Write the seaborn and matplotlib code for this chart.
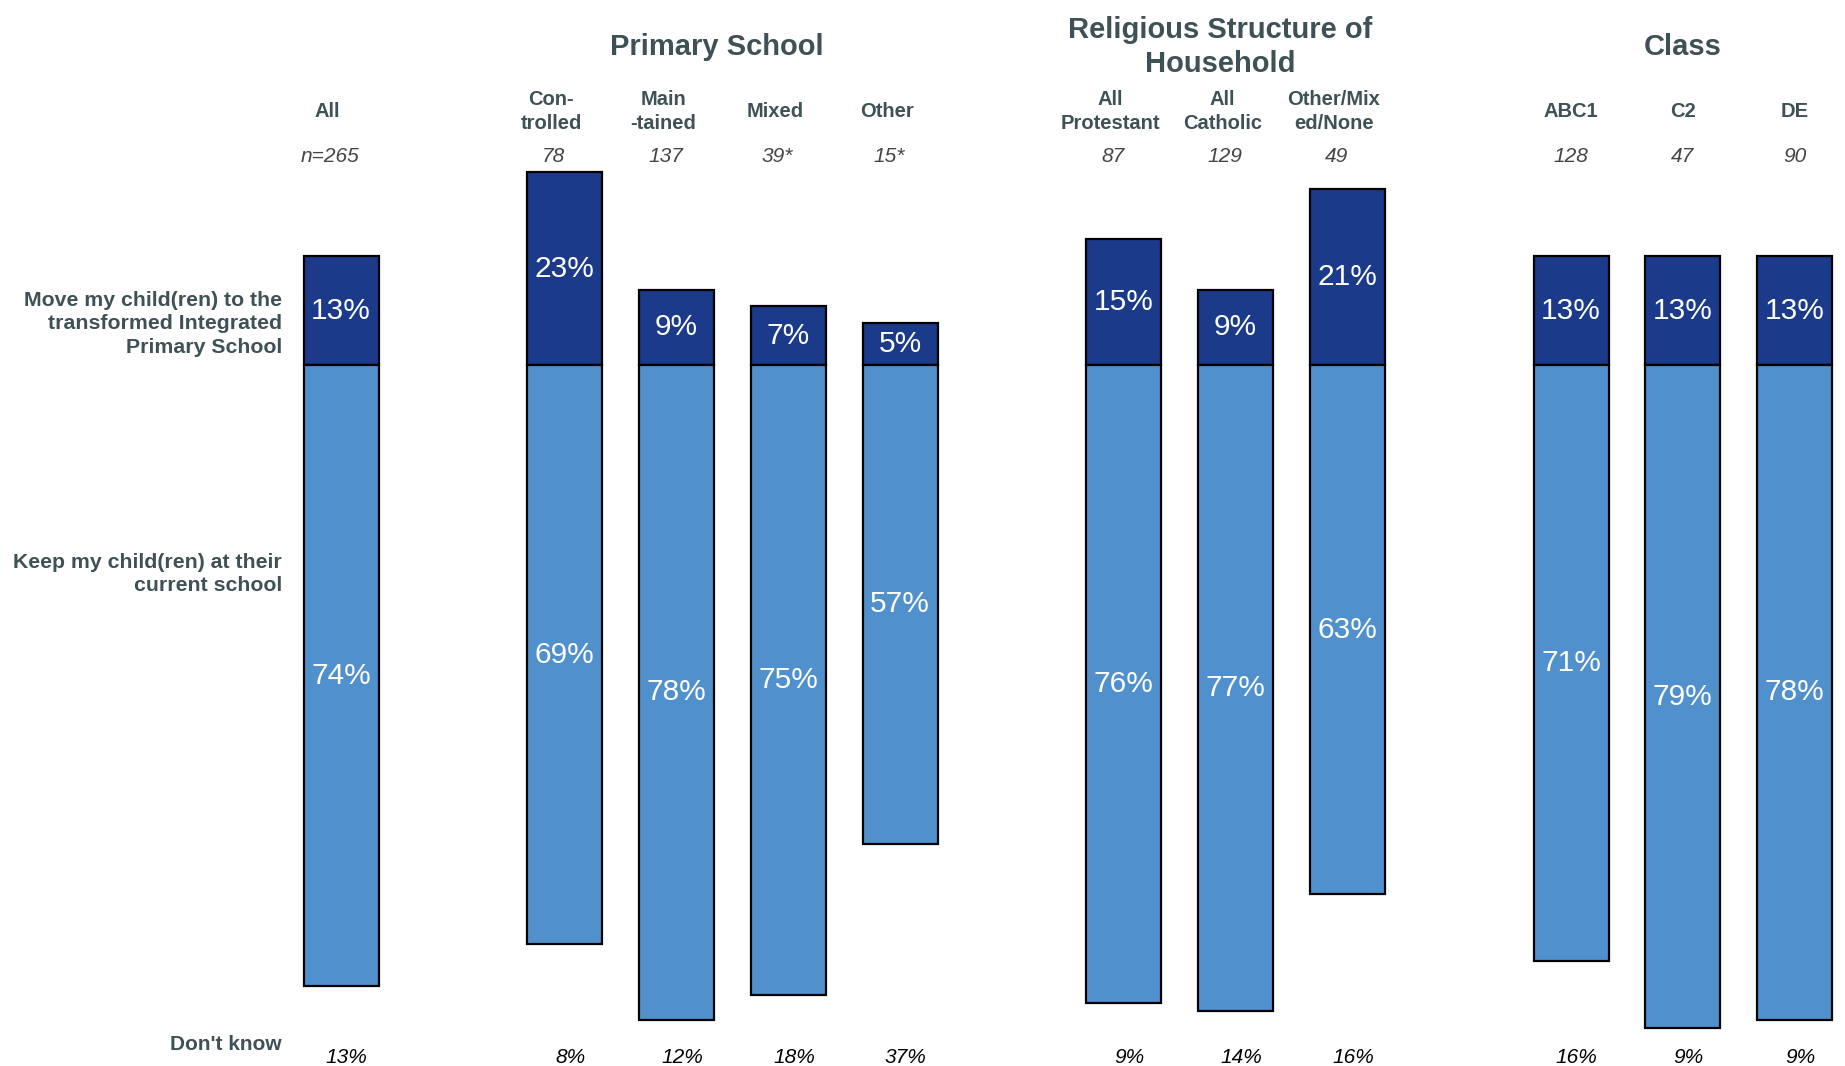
import matplotlib
matplotlib.use("Agg")
import matplotlib.pyplot as plt
from matplotlib import font_manager as fm
import seaborn as sns
import pandas as pd

# ---------------- data ----------------
group_titles = ["", "Primary School", "Religious Structure of\nHousehold", "Class"]
group_members = [
    ["All"],
    ["Con-\ntrolled", "Main\n-tained", "Mixed", "Other"],
    ["All\nProtestant", "All\nCatholic", "Other/Mix\ned/None"],
    ["ABC1", "C2", "DE"],
]
n_labels = ["n=265", "78", "137", "39*", "15*", "87", "129", "49", "128", "47", "90"]
move_vals = [13, 23, 9, 7, 5, 15, 9, 21, 13, 13, 13]
keep_vals = [74, 69, 78, 75, 57, 76, 77, 63, 71, 79, 78]
dont_know = [13, 8, 12, 18, 37, 9, 14, 16, 16, 9, 9]
row_labels = ["Move my child(ren) to the\ntransformed Integrated\nPrimary School",
              "Keep my child(ren) at their\ncurrent school",
              "Don't know"]

# ---------------- styling ----------------
sns.set_theme(style="white")
names = {f.name for f in fm.fontManager.ttflist}
NARROW = "Liberation Sans Narrow" if "Liberation Sans Narrow" in names else "Liberation Sans"
plt.rcParams["font.family"] = ["Liberation Sans", "DejaVu Sans"]

DARK = "#1B3A8A"
LIGHT = "#4F90CD"
TXT = "#3E5157"

# positions: one empty slot between groups
positions, cats, group_centres = [], [], []
pos = 0
for gi, members in enumerate(group_members):
    start = pos
    for m in members:
        positions.append(pos)
        cats.append(m)
        pos += 1
    group_centres.append((start + pos - 1) / 2)
    pos += 1

df = pd.DataFrame({"pos": positions, "cat": cats, "move": move_vals,
                   "keep_neg": [-v for v in keep_vals], "keep": keep_vals,
                   "dk": dont_know, "n": n_labels})

fig = plt.figure(figsize=(18.45, 10.66), dpi=100)
ax = fig.add_axes([0, 0, 1, 1])

sns.barplot(data=df, x="pos", y="move", native_scale=True, width=0.67,
            color=DARK, saturation=1, edgecolor="black", linewidth=1.6, ax=ax)
sns.barplot(data=df, x="pos", y="keep_neg", native_scale=True, width=0.67,
            color=LIGHT, saturation=1, edgecolor="black", linewidth=1.6, ax=ax)

ax.set_xlim(-3.05, 13.45)
ax.set_ylim(-83.5, 43.5)
ax.axis("off")

# value labels inside bars
for _, r in df.iterrows():
    ax.text(r["pos"], r["move"] / 2, f"{r['move']}%", ha="center", va="center",
            color="white", fontsize=21.5, family=NARROW)
    ax.text(r["pos"], -r["keep"] / 2, f"{r['keep']}%", ha="center", va="center",
            color="white", fontsize=21.5, family=NARROW)
    # category header
    off = 0 if r["pos"] >= 10 else -0.12
    ax.text(r["pos"] + off, 30.2, r["cat"], ha="center", va="center", color=TXT,
            fontsize=14.5, fontweight="bold", family=NARROW, linespacing=1.3)
    ax.text(r["pos"] + off * 0.8, 24.9, r["n"], ha="center", va="center", color="#444444",
            fontsize=15, fontstyle="italic", family=NARROW)
    ax.text(r["pos"] + 0.05, -82.5, f"{r['dk']}%", ha="center", va="center", color="black",
            fontsize=15, fontstyle="italic", family=NARROW)

# group titles
for title, c in zip(group_titles, group_centres):
    if title:
        off = 0 if c >= 10 else -0.14
        ax.text(c + off, 37.9, title, ha="center", va="center", color=TXT,
                fontsize=21, fontweight="bold", family=NARROW, linespacing=1.25)

# row labels on the left
ax.text(-0.53, 4.9, row_labels[0], ha="right", va="center", color=TXT,
        fontsize=15.3, fontweight="bold", linespacing=1.3)
ax.text(-0.53, -24.9, row_labels[1], ha="right", va="center", color=TXT,
        fontsize=15.3, fontweight="bold", linespacing=1.3)
ax.text(-0.53, -80.9, row_labels[2], ha="right", va="center", color=TXT,
        fontsize=15, fontweight="bold", family=NARROW)

fig.savefig("out.png", dpi=100, facecolor="white")
